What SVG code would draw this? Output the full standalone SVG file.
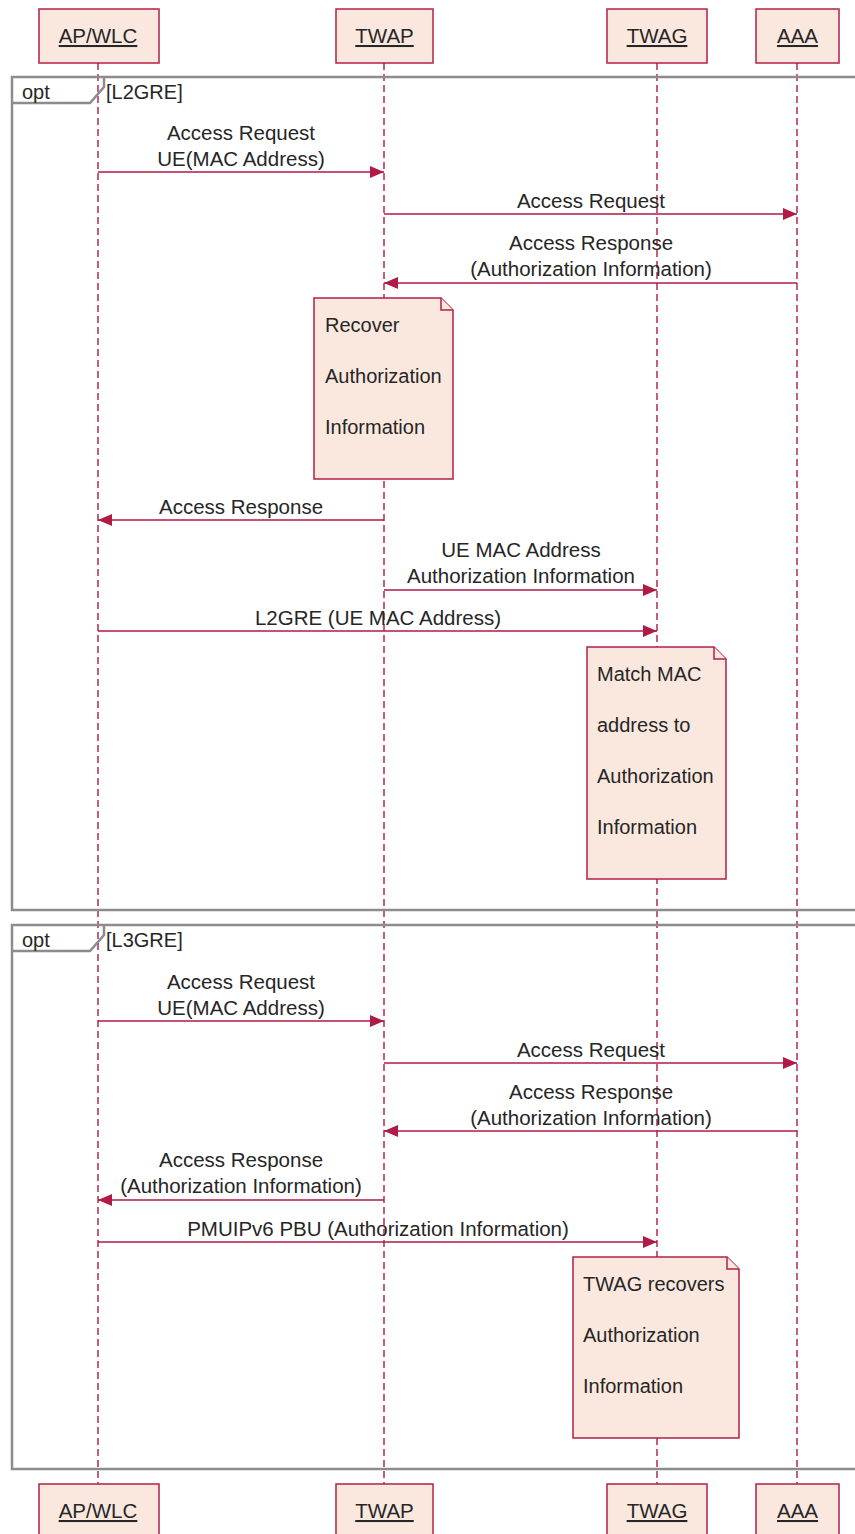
<svg xmlns="http://www.w3.org/2000/svg" width="855" height="1534" viewBox="0 0 855 1534">
  <style>
    text { font-family: "Liberation Sans", Arial, sans-serif; fill: #262626; }
    .lbl { font-size: 20.5px; text-anchor: middle; }
    .hdr { font-size: 20.5px; text-anchor: middle; text-decoration: underline; }
    .note-t { font-size: 20px; }
    .frm-t { font-size: 20px; }
    .box { fill: #fae8df; stroke: #b3214a; stroke-width: 1.5; }
    .life { stroke: #b01a45; stroke-width: 1.4; stroke-dasharray: 7 4; fill: none; }
    .msg { stroke: #b01a45; stroke-width: 1.5; fill: none; marker-end: url(#arrow); }
    .frame { fill: none; stroke: #8c8c8c; stroke-width: 2.5; }
  </style>
  <defs>
    <marker id="arrow" viewBox="0 0 14 12" refX="14" refY="6" markerWidth="14" markerHeight="12" markerUnits="userSpaceOnUse" orient="auto">
      <path d="M0,0 L14,6 L0,12 Z" fill="#b01a45"/>
    </marker>
  </defs>
  <rect width="855" height="1534" fill="#ffffff"/>

  <!-- lifelines -->
  <g id="lifelines">
    <line class="life" x1="98" y1="63" x2="98" y2="1484"/>
    <line class="life" x1="384" y1="63" x2="384" y2="1484"/>
    <line class="life" x1="657" y1="63" x2="657" y2="1484"/>
    <line class="life" x1="797" y1="63" x2="797" y2="1484"/>
  </g>

  <!-- combined fragments -->
  <g id="frag-l2gre">
    <rect class="frame" x="12" y="77" width="870" height="833"/>
    <path class="frame" d="M12,103 H90 L104,87 V77"/>
    <text class="frm-t" x="22" y="99">opt</text>
    <text class="frm-t" x="106" y="99">[L2GRE]</text>
  </g>
  <g id="frag-l3gre">
    <rect class="frame" x="12" y="925" width="870" height="544"/>
    <path class="frame" d="M12,951 H90 L104,935 V925"/>
    <text class="frm-t" x="22" y="947">opt</text>
    <text class="frm-t" x="106" y="947">[L3GRE]</text>
  </g>

  <!-- participants -->
  <g id="ap-wlc">
    <rect class="box" x="39" y="9" width="120" height="54"/>
    <text class="hdr" x="98" y="43">AP/WLC</text>
    <rect class="box" x="39" y="1484" width="120" height="56"/>
    <text class="hdr" x="98" y="1518">AP/WLC</text>
  </g>
  <g id="twap">
    <rect class="box" x="336" y="9" width="97" height="54"/>
    <text class="hdr" x="384.5" y="43">TWAP</text>
    <rect class="box" x="336" y="1484" width="97" height="56"/>
    <text class="hdr" x="384.5" y="1518">TWAP</text>
  </g>
  <g id="twag">
    <rect class="box" x="607" y="9" width="100" height="54"/>
    <text class="hdr" x="657" y="43">TWAG</text>
    <rect class="box" x="607" y="1484" width="100" height="56"/>
    <text class="hdr" x="657" y="1518">TWAG</text>
  </g>
  <g id="aaa">
    <rect class="box" x="756" y="9" width="83" height="54"/>
    <text class="hdr" x="797.5" y="43">AAA</text>
    <rect class="box" x="756" y="1484" width="83" height="56"/>
    <text class="hdr" x="797.5" y="1518">AAA</text>
  </g>

  <!-- notes -->
  <g id="note-recover">
    <path class="box" d="M314,298 H441 L453,310 V479 H314 Z"/>
    <path class="box" d="M441,298 V310 H453"/>
    <text class="note-t" x="325" y="332">Recover</text>
    <text class="note-t" x="325" y="383">Authorization</text>
    <text class="note-t" x="325" y="434">Information</text>
  </g>
  <g id="note-match">
    <path class="box" d="M587,647 H714 L726,659 V879 H587 Z"/>
    <path class="box" d="M714,647 V659 H726"/>
    <text class="note-t" x="597" y="681">Match MAC</text>
    <text class="note-t" x="597" y="732">address to</text>
    <text class="note-t" x="597" y="783">Authorization</text>
    <text class="note-t" x="597" y="834">Information</text>
  </g>
  <g id="note-twag-recovers">
    <path class="box" d="M573,1257 H727 L739,1269 V1438 H573 Z"/>
    <path class="box" d="M727,1257 V1269 H739"/>
    <text class="note-t" x="583" y="1291">TWAG recovers</text>
    <text class="note-t" x="583" y="1342">Authorization</text>
    <text class="note-t" x="583" y="1393">Information</text>
  </g>

  <!-- messages -->
  <g id="connectors">
    <!-- L2GRE -->
    <line class="msg" x1="98" y1="172" x2="384" y2="172"/>
    <text class="lbl" x="241" y="140">Access Request</text>
    <text class="lbl" x="241" y="166">UE(MAC Address)</text>

    <line class="msg" x1="384" y1="214" x2="797" y2="214"/>
    <text class="lbl" x="591" y="208">Access Request</text>

    <line class="msg" x1="797" y1="283" x2="384" y2="283"/>
    <text class="lbl" x="591" y="250">Access Response</text>
    <text class="lbl" x="591" y="276">(Authorization Information)</text>

    <line class="msg" x1="384" y1="520" x2="98" y2="520"/>
    <text class="lbl" x="241" y="514">Access Response</text>

    <line class="msg" x1="384" y1="590" x2="657" y2="590"/>
    <text class="lbl" x="521" y="557">UE MAC Address</text>
    <text class="lbl" x="521" y="583">Authorization Information</text>

    <line class="msg" x1="98" y1="631" x2="657" y2="631"/>
    <text class="lbl" x="378" y="625">L2GRE (UE MAC Address)</text>

    <!-- L3GRE -->
    <line class="msg" x1="98" y1="1021" x2="384" y2="1021"/>
    <text class="lbl" x="241" y="989">Access Request</text>
    <text class="lbl" x="241" y="1015">UE(MAC Address)</text>

    <line class="msg" x1="384" y1="1063" x2="797" y2="1063"/>
    <text class="lbl" x="591" y="1057">Access Request</text>

    <line class="msg" x1="797" y1="1131" x2="384" y2="1131"/>
    <text class="lbl" x="591" y="1099">Access Response</text>
    <text class="lbl" x="591" y="1125">(Authorization Information)</text>

    <line class="msg" x1="384" y1="1200" x2="98" y2="1200"/>
    <text class="lbl" x="241" y="1167">Access Response</text>
    <text class="lbl" x="241" y="1193">(Authorization Information)</text>

    <line class="msg" x1="98" y1="1242" x2="657" y2="1242"/>
    <text class="lbl" x="378" y="1236">PMUIPv6 PBU (Authorization Information)</text>
  </g>
</svg>
